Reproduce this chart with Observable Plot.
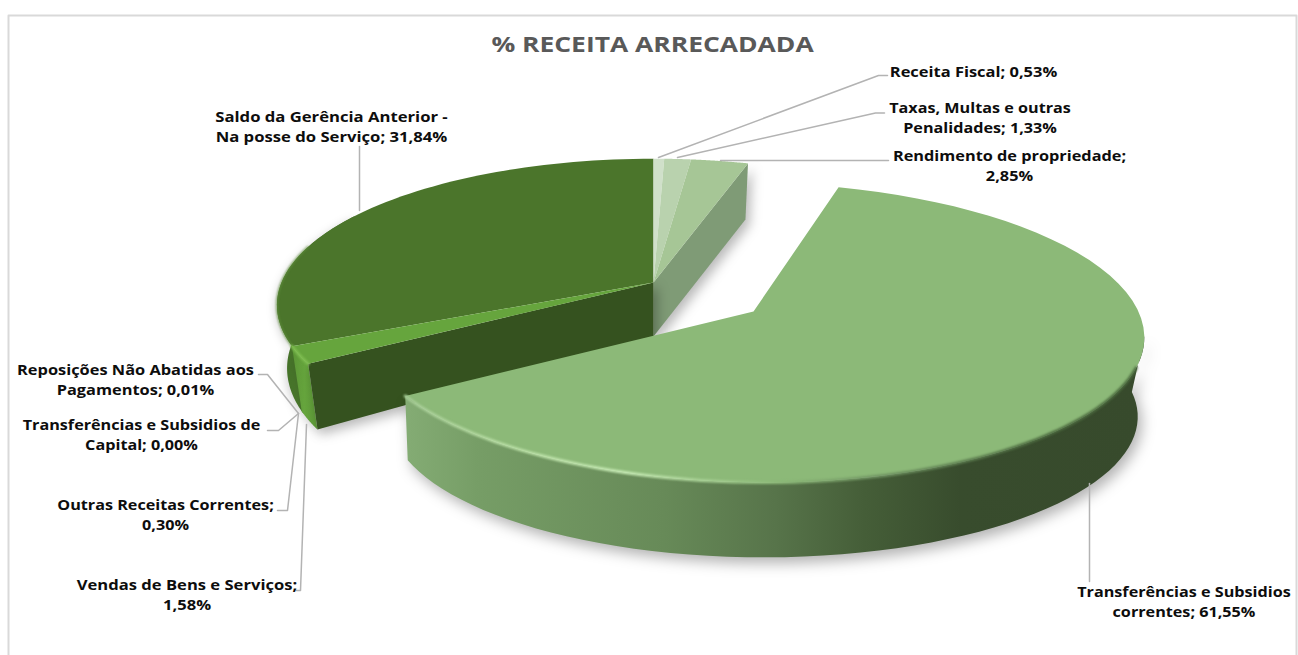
<!DOCTYPE html>
<html><head><meta charset="utf-8">
<script src="https://cdn.jsdelivr.net/npm/d3@7"></script>
<script src="https://cdn.jsdelivr.net/npm/@observablehq/plot@0.6"></script>
<style>html,body{margin:0;padding:0;background:#fff;overflow:hidden}svg{display:block}</style>
</head><body><div id="chart"></div>
<script>
const titleText = "% RECEITA ARRECADADA";
const categories = ["Receita Fiscal","Taxas, Multas e outras Penalidades","Rendimento de propriedade","Transferências e Subsidios correntes","Vendas de Bens e Serviços","Outras Receitas Correntes","Transferências e Subsidios de Capital","Reposições Não Abatidas aos Pagamentos","Saldo da Gerência Anterior - Na posse do Serviço"];
const values = [0.53,1.33,2.85,61.55,1.58,0.30,0.00,0.01,31.84];
const labelLines = [["Receita Fiscal; 0,53%"],["Taxas, Multas e outras","Penalidades; 1,33%"],["Rendimento de propriedade;","2,85%"],["Transferências e Subsidios","correntes; 61,55%"],["Vendas de Bens e Serviços;","1,58%"],["Outras Receitas Correntes;","0,30%"],["Transferências e Subsidios de","Capital; 0,00%"],["Reposições Não Abatidas aos","Pagamentos; 0,01%"],["Saldo da Gerência Anterior -","Na posse do Serviço; 31,84%"]];
const sliceColors = ["#d0e0ca","#b9d2ae","#a6c696","#8cb978","#66a53d","#66a53d","#66a53d","#66a53d","#4b752b"];

// layout of the drawing (not data)
const W = 1298, H = 655;
const labelPos = [[973,70.5],[979.5,107],[1009,155.5],[1183.5,591],[186.5,584],[165,504],[141,424.5],[135,369],[331,116]];
const labelStretch = [1.135,1.117,1.125,1.117,1.145,1.117,1.12,1.13,1.15];
const leaders = [[[658,157],[878,75],[887,75]],[[677,157],[875,112.5],[884,112.5]],[[720,160],[888,160]],[[1089,483],[1089,581]],[[306,424],[300,590],[296,590]],[[298,413],[287,510],[277,510]],[[298,413],[278,430],[267,430]],[[298,413],[267,374],[258,374]],[[359,210],[359,146]]];

const TOP_L = {cx:653, cy:282, R:372, S:143, k:0.155, rot:0, tilt:0};
const BOT_L = {cx:653, cy:344, ay:336, R:362, S:150, k:0.155, rot:0, tilt:0};
const TOP_M = {cx:753, cy:311, R:387, S:147, k:0.14, rot:-2.5, tilt:5};
const BOT_M = {cx:763, cy:374, R:357, S:128, k:0.30, rot:-2.5, tilt:0};

const total = d3.sum(values);
let acc = 0;
const arcs = values.map(v => { const a0 = acc/total*360; acc += v; return [a0, acc/total*360]; });
const proj = (g, deg) => { const t = (deg+g.rot)*Math.PI/180, w = 1+g.k*Math.cos(t);
  return {x:g.cx+g.R*Math.sin(t)/w, y:g.cy+(g.tilt*Math.sin(t)-g.S*Math.cos(t))/w}; };
const arc = (g,a0,a1) => d3.range(0,65).map(i => proj(g,a0+(a1-a0)*i/64));
const apex = g => ({x:g.cx,y:g.ay ?? g.cy});
const poly = (pts,fill,extra={}) => Plot.line(pts,{x:"x",y:"y",fill,stroke:"none",...extra});
const sector = (g,a0,a1) => [apex(g),...arc(g,a0,a1),apex(g)];
const wall = (t,b,a0,a1) => [...arc(t,a0,a1),...arc(b,a0,a1).reverse()];

const [aM0,aM1] = arcs[3];
const aS1 = arcs[7][1];
const aF = arcs[2][1];
const shadow = "drop-shadow(4px 5px 6px rgba(0,0,0,0.28))";
const textStyle = {x:"x",y:"y",text:"t",fontSize:14.5,fontWeight:700,fontFamily:"Open Sans",fill:"#0d0d0d",lineHeight:1.38};
const labels = labelLines.map((l,i)=>({t:l.join("\n"),x:labelPos[i][0],y:labelPos[i][1]}));

const marks = [
  poly([apex(TOP_L),proj(TOP_L,aF),proj(BOT_L,aF),apex(BOT_L)],"#7f9b76",{imageFilter:shadow}),
  poly(wall(TOP_L,BOT_L,aS1-1,300),"url(#wallL)",{imageFilter:"drop-shadow(-1px 3px 5px rgba(0,0,0,0.2))"}),
  poly(wall(TOP_L,BOT_L,aM1,aS1),"url(#wallS)",{imageFilter:shadow}),
  poly([apex(TOP_L),proj(TOP_L,aM1),proj(BOT_L,aM1),apex(BOT_L)],"#35521f",{imageFilter:shadow}),
  poly(sector(TOP_L,arcs[8][0],360),sliceColors[8]),
  Plot.line(arc(TOP_L,aS1,285),{x:"x",y:"y",stroke:"#5f8f3c",strokeWidth:1.5,imageFilter:"blur(0.8px)"}),
  ...[0,1,2].map(i => poly(sector(TOP_L,arcs[i][0],arcs[i][1]),sliceColors[i])),
  poly(sector(TOP_L,arcs[4][0],arcs[7][1]),sliceColors[4]),
  Plot.line(arc(TOP_L,aM1,aS1),{x:"x",y:"y",stroke:"#7ebd50",strokeWidth:3,imageFilter:"blur(1px)"}),
  poly(wall(TOP_M,BOT_M,100,aM1),"url(#wallM)",{imageFilter:"drop-shadow(4px 6px 7px rgba(0,0,0,0.3))"}),
  poly(sector(TOP_M,aM0,aM1),sliceColors[3]),
  Plot.line(arc(TOP_M,aM1,112),{x:"x",y:"y",stroke:"url(#rim)",strokeWidth:3,imageFilter:"blur(1px)"}),
  ...leaders.map(e => Plot.line(e.map(([x,y])=>({x,y})),{x:"x",y:"y",stroke:"#b3b3b3",strokeWidth:1.5})),
  Plot.text(labels.slice(1),{...textStyle,textAnchor:"middle",lineAnchor:"top",dy:-9}),
  Plot.text(labels.slice(0,1),{...textStyle,textAnchor:"middle"}),
  Plot.text([{t:titleText,x:652,y:41.5}],{...textStyle,fontSize:21.5,fill:"#595959"}),
  Plot.line([{x:8,y:H},{x:8,y:15},{x:1296,y:15},{x:1296,y:H}],{x:"x",y:"y",stroke:"#d9d9d9",strokeWidth:2})
];

const plot = Plot.plot({width:W,height:H,margin:0,
  x:{domain:[0,W],range:[0,W],axis:null},y:{domain:[0,H],range:[0,H],axis:null},marks});
const defs = d3.select(plot).insert("defs",":first-child");
const grad = (id,x1,x2,stops) => { const g = defs.append("linearGradient").attr("id",id).attr("gradientUnits","userSpaceOnUse")
   .attr("x1",x1).attr("x2",x2).attr("y1",0).attr("y2",0);
   stops.forEach(([o,c,a]) => g.append("stop").attr("offset",o).attr("stop-color",c).attr("stop-opacity",a??1)); };
grad("wallM",405,1145,[[0,"#84ac74"],[0.1,"#769d66"],[0.35,"#678a58"],[0.5,"#57744a"],[0.62,"#455e38"],[0.75,"#384c2d"],[1,"#374a2c"]]);
grad("wallL",275,320,[[0,"#3f6a24"],[0.5,"#4b7a2d"],[1,"#4b7a2d"]]);
grad("wallS",290,318,[[0,"#5a9335"],[0.5,"#66a53d"],[1,"#5e9a38"]]);
grad("rim",405,1145,[[0,"#a6cc96"],[0.15,"#b9dfa5"],[0.3,"#c6eab4"],[0.5,"#8cb978"],[0.65,"#6d9060"],[0.85,"#4d6b40"],[1,"#4a6a3d"]]);
// widen the lettering about its anchor, as the reference's stretched picture does
d3.select(plot).selectAll("text").each(function(){
  const txt = this.textContent;
  const i = labelLines.findIndex(l => txt.startsWith(l[0]));
  const s = txt.startsWith("%") ? 1.23 : labelStretch[i];
  this.setAttribute("transform", (this.getAttribute("transform") || "")+` scale(${s},1)`);
});
document.getElementById("chart").append(plot);
</script></body></html>
